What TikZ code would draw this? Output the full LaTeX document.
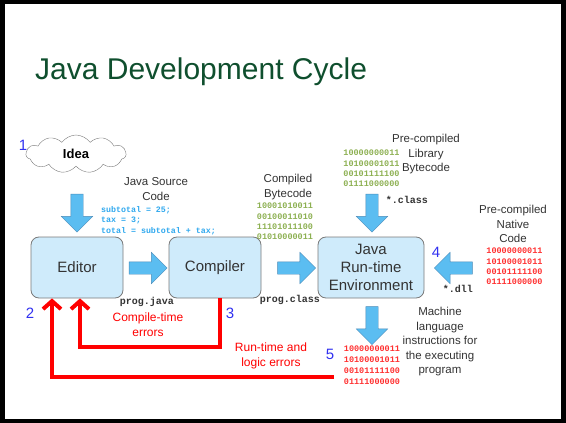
\documentclass[tikz,border=0pt]{standalone}
\usepackage{fontspec}
\setmainfont{Liberation Sans}
\setmonofont{Liberation Mono}
\usetikzlibrary{shapes}
\usetikzlibrary{shapes.arrows}
\usetikzlibrary{shapes.symbols}
\usetikzlibrary{positioning}
\usetikzlibrary{arrows.meta}
\definecolor{boxfill}{HTML}{CFEBFB}
\definecolor{boxline}{HTML}{7A7A7A}
\definecolor{arrowfill}{HTML}{5BBDF1}
\definecolor{arrowline}{HTML}{4A8AB8}
\definecolor{numblue}{HTML}{3030F0}
\definecolor{errred}{HTML}{FF0000}
\definecolor{bitgreen}{HTML}{8DB052}
\definecolor{bitred}{HTML}{FF3030}
\definecolor{codecyan}{HTML}{2FA8EE}
\definecolor{titlegreen}{HTML}{0F4F2E}
\tikzset{
    stage/.style = {rectangle, rounded corners=8pt, draw=boxline, thick, fill=boxfill, minimum height=61pt, align=center, font=\fontsize{15}{18}\selectfont, text=black!80},
    flow/.style = {single arrow, draw=arrowline, fill=arrowfill, minimum height=38pt, minimum width=31pt, single arrow head extend=9.5pt, inner sep=6pt},
    caption/.style = {align=center, font=\fontsize{11.5}{14.5}\selectfont, text=black!80},
    bits/.style = {align=left, inner sep=0pt, font=\ttfamily\bfseries\fontsize{8.5}{10.3}\selectfont},
    filename/.style = {inner sep=0pt, font=\ttfamily\bfseries\fontsize{10}{12}\selectfont, text=black!80},
    stepnum/.style = {inner sep=0pt, font=\fontsize{15}{18}\selectfont, text=numblue},
    errarrow/.style = {-{Straight Barb[length=8pt,width=18pt]}, line width=4pt, errred},
    errtext/.style = {align=center, font=\fontsize{12}{15}\selectfont, text=errred}
}

\begin{document}
\begin{tikzpicture}[x=1pt,y=-1pt]
\useasboundingbox (0,0) rectangle (566,423);
\draw[line width=4.5pt] (2.5,1.5) rectangle (563.5,421);
\node[anchor=base west, inner sep=0pt, text=titlegreen, font=\fontsize{30}{36}\selectfont] (title) at (35,79) {Java Development Cycle};
% stages
\node[cloud, cloud puffs=11, cloud puff arc=110, aspect=2.7, draw=boxline, fill=white, minimum width=100pt, minimum height=38pt, font=\bfseries\fontsize{13}{15}\selectfont] (idea) at (76,154) {Idea};
\node[stage, minimum width=92pt] (editor) at (77,267.5) {Editor};
\node[stage, minimum width=92pt] (compiler) at (215,267.5) {Compiler};
\node[stage, minimum width=106pt] (jre) at (371,267.5) {Java\\Run-time\\Environment};
% block arrows
\node[flow, rotate=-90] (idea2editor) at (77,210) {};
\node[flow] (editor2compiler) at (145,268) {};
\node[flow] (compiler2jre) at (293.5,268) {};
\node[flow, rotate=-90] (lib2jre) at (372,210) {};
\node[flow, rotate=180] (native2jre) at (456.5,268) {};
\node[flow, rotate=-90] (jre2machine) at (372,322.5) {};
% texts
\node[caption] (srclabel) at (156,189) {Java Source\\Code};
\node[bits, anchor=west, text=codecyan, font=\ttfamily\bfseries\fontsize{8.3}{10.5}\selectfont] (srccode) at (101,220.5) {subtotal = 25;\\tax = 3;\\total = subtotal + tax;};
\node[caption] (bytelabel) at (288,187) {Compiled\\Bytecode};
\node[bits, text=bitgreen] (bytebits) at (285,221.5) {10001010011\\00100011010\\11101011100\\01010000011};
\node[caption] (liblabel) at (426,154.5) {Pre-compiled\\Library\\Bytecode};
\node[bits, text=bitgreen] (libbits) at (371.5,168.5) {10000000011\\10100001011\\00101111100\\01111000000};
\node[caption] (nativelabel) at (513,224) {Pre-compiled\\Native\\Code};
\node[bits, text=bitred] (nativebits) at (514.5,266.5) {10000000011\\10100001011\\00101111100\\01111000000};
\node[caption] (machinelabel) at (440,342) {Machine\\language\\instructions for\\the executing\\program};
\node[bits, text=bitred, font=\ttfamily\bfseries\fontsize{8.5}{11}\selectfont] (machinebits) at (372,365.5) {10000000011\\10100001011\\00101111100\\01111000000};
\node[filename] (progjava) at (147,302) {prog.java};
\node[filename] (progclass) at (290,300) {prog.class};
\node[filename] (dotclass) at (407,200) {*.class};
\node[filename] (dotdll) at (458,289) {*.dll};
\node[stepnum] (n1) at (23,145) {1};
\node[stepnum] (n2) at (30,313) {2};
\node[stepnum] (n3) at (230,313) {3};
\node[stepnum] (n4) at (436,252) {4};
\node[stepnum] (n5) at (330,354) {5};
% error loops
\node[errtext] (compileerr) at (148,324.5) {Compile-time\\errors};
\node[errtext] (runerr) at (271,356) {Run-time and\\logic errors};
\coordinate (runend) at (334,377);
\draw[errarrow] ([xshift=5pt]compiler.south) -- ++(0,49) -| ([xshift=3pt]editor.south);
\draw[errarrow] (runend) -| ([xshift=-25pt]editor.south);
\end{tikzpicture}
\end{document}
